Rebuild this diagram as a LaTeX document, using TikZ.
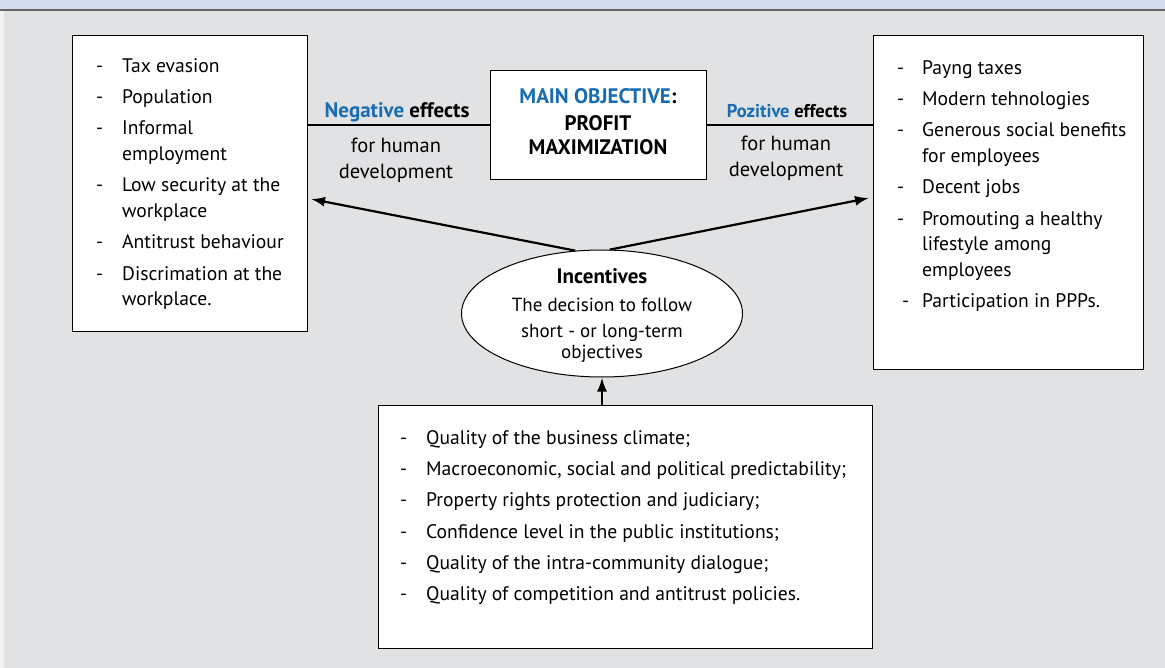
\documentclass[tikz,border=0pt]{standalone}
\usepackage{fontspec}
\setmainfont{PT Sans}
\usepackage{array}
\usetikzlibrary{shapes.geometric,arrows.meta}

\definecolor{bandblue}{RGB}{211,220,237}
\definecolor{panelgray}{RGB}{225,226,228}
\definecolor{headblue}{RGB}{24,108,178}

\renewcommand{\arraystretch}{1.225}

\begin{document}
\begin{tikzpicture}[x=1pt,y=-1pt,
  box/.style = {draw,fill=white,line width=1pt,inner sep=0pt},
  lst/.style = {anchor=north west,inner sep=0pt,font=\fontsize{19.6}{25.6}\selectfont},
  lbl/.style = {align=center,inner sep=0pt,font=\fontsize{20.5}{26}\selectfont},
  arr/.style = {line width=2.2pt,-{Latex[length=14pt,width=10pt]}}]

\useasboundingbox (0,0) rectangle (1165,668);
\fill[panelgray] (0,0) rectangle (1165,668);
\fill[black!5] (0,10) rectangle (4,668);
\fill[bandblue] (0,0) rectangle (1165,9.5);
\draw[black!60,line width=1.2pt] (0,10) -- (1165,10);

\node[box,minimum width=235pt,minimum height=296pt] (neg) at (189.5,184) {};
\node[box,minimum width=270pt,minimum height=334pt] (pos) at (1008,203) {};
\node[box,minimum width=216pt,minimum height=109pt] (main) at (598,125.5) {};
\node[box,minimum width=494pt,minimum height=243pt] (cond) at (625,526.5) {};

\node[lbl,font=\fontsize{21}{24}\selectfont\bfseries] (maintext) at (598,122)
  {\textcolor{headblue}{MAIN OBJECTIVE}:\\[3pt]PROFIT\\MAXIMIZATION};

\node[lst] (neglist) at (96,50) {\begin{tabular}{@{}p{26pt}@{}p{190pt}@{}}
- & Tax evasion\\
- & Population\\
- & Informal\newline employment\\
- & Low security at the\newline workplace\\
- & Antitrust behaviour\\
- & Discrimation at the\newline workplace.
\end{tabular}};

\node[lst] (poslist) at (897,52) {\begin{tabular}{@{}p{25pt}@{}p{230pt}@{}}
- & Payng taxes\\
- & Modern tehnologies\\
- & Generous social benefits\newline for employees\\
- & Decent jobs\\
- & Promouting a healthy\newline lifestyle among\newline employees\\
\hspace{5pt}- & Participation in PPPs.
\end{tabular}};

\node[lst] (condlist) at (400,422) {\begin{tabular}{@{}p{26pt}@{}p{460pt}@{}}
- & Quality of the business climate;\\
- & Macroeconomic, social and political predictability;\\
- & Property rights protection and judiciary;\\
- & Confidence level in the public institutions;\\
- & Quality of the intra-community dialogue;\\
- & Quality of competition and antitrust policies.
\end{tabular}};

\node[lbl,font=\fontsize{21}{26}\selectfont\bfseries] (neghead) at (397,112)
  {\textcolor{headblue}{Negative} effects};
\node[lbl] (negsub) at (396,160) {for human\\development};
\node[lbl,font=\fontsize{18.5}{26}\selectfont\bfseries] (poshead) at (787,111)
  {\textcolor{headblue}{Pozitive} effects};
\node[lbl] (possub) at (786,158) {for human\\development};

\node[draw,fill=white,ellipse,line width=1pt,inner sep=0pt,
  minimum width=281pt,minimum height=127pt] (inc) at (602,313.5) {};
\node[lbl,font=\fontsize{19}{21}\selectfont] (inctext) at (602,316)
  {{\fontsize{21}{21}\selectfont\bfseries Incentives}\\[7pt]The decision to follow\\[5pt]short - or long-term\\objectives};

\coordinate (negtip) at (311,199);
\coordinate (postip) at (869,198);

\draw[line width=2pt] (main.west) to (main.west -| neg.east);
\draw[line width=2pt] (main.east) to (main.east -| pos.west);
\draw[arr] (inc.113) to (negtip);
\draw[arr] (inc.83) to (postip);
\draw[arr] (inc.south |- cond.north) to (inc.south);
\end{tikzpicture}
\end{document}
